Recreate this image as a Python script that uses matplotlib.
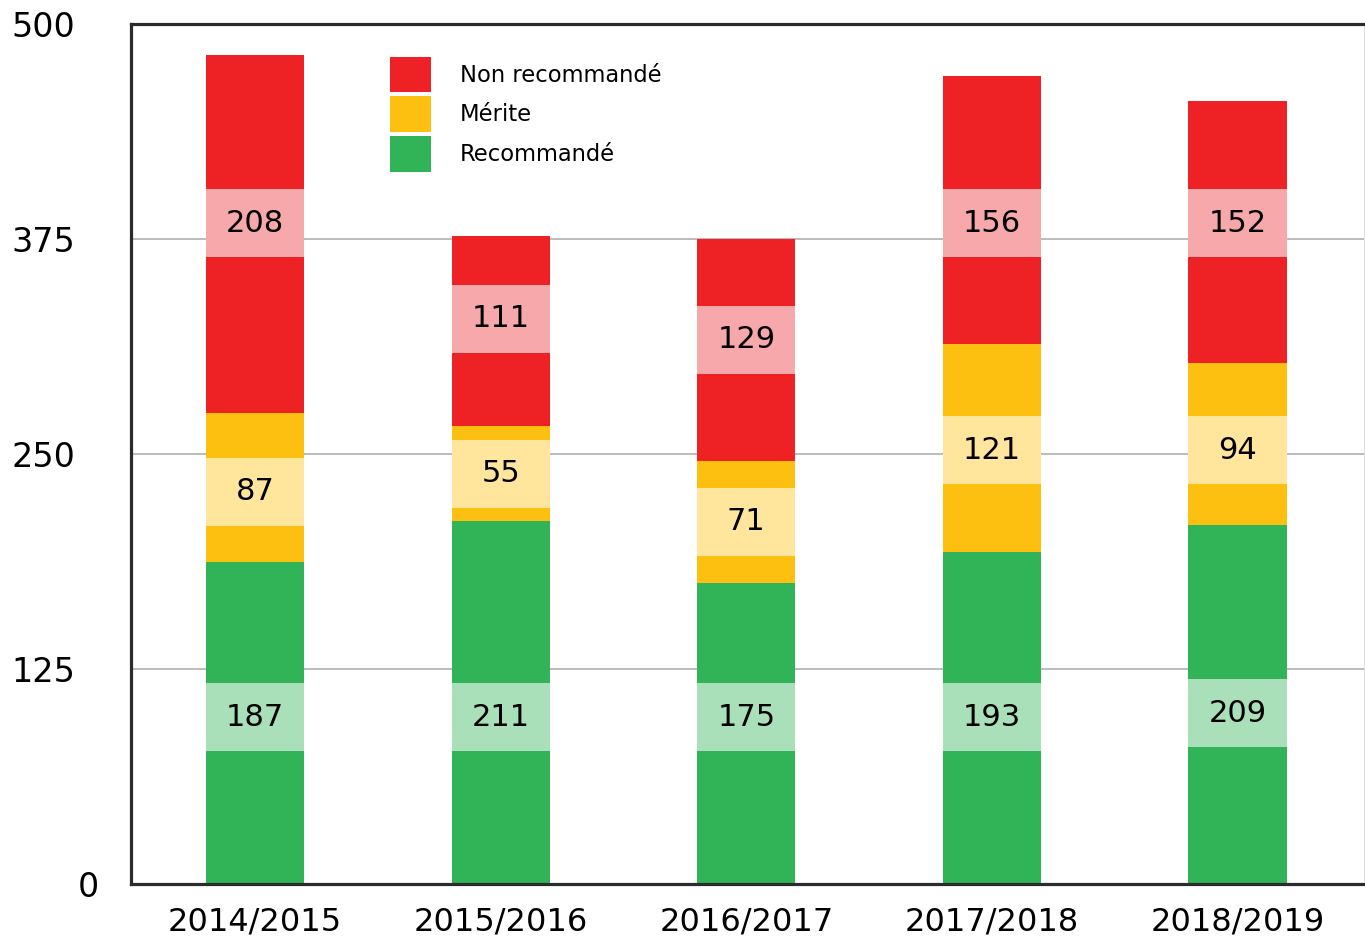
import matplotlib.pyplot as plt
import matplotlib.transforms as mtransforms
import numpy as np

saisons = ["2014/2015", "2015/2016", "2016/2017", "2017/2018", "2018/2019"]
recommande = [187, 211, 175, 193, 209]
merite = [87, 55, 71, 121, 94]
non_recommande = [208, 111, 129, 156, 152]
yticks = [0, 125, 250, 375, 500]

vert, jaune, rouge = "#31B457", "#FDC010", "#EE2224"
vert_clair, jaune_clair, rouge_clair = "#A9E0BA", "#FFE69C", "#F7A8AA"

fig = plt.figure(figsize=(13.65, 9.36), dpi=100)
ax = fig.add_axes([131 / 1365, 1 - 884 / 936, 1233 / 1365, 860 / 936])

x = np.arange(len(saisons))
w = 0.4
bas_merite = np.array(recommande)
bas_non = bas_merite + np.array(merite)

b1 = ax.bar(x, recommande, w, color=vert, linewidth=0, label="Recommandé", zorder=2)
b2 = ax.bar(x, merite, w, bottom=bas_merite, color=jaune, linewidth=0, label="Mérite", zorder=2)
b3 = ax.bar(x, non_recommande, w, bottom=bas_non, color=rouge, linewidth=0,
            label="Non recommandé", zorder=2)

# cases claires avec les valeurs
h = 39.5
centres_vert = [97, 97, 97, 97, 99.4]
centres_jaune = [228, 238.4, 210.5, 252.3, 252.3]
centres_rouge = [384.3, 328.5, 316.3, 384.3, 384.3]
for centres, vals, coul in [(centres_vert, recommande, vert_clair),
                            (centres_jaune, merite, jaune_clair),
                            (centres_rouge, non_recommande, rouge_clair)]:
    c = np.array(centres)
    ax.bar(x, h, w, bottom=c - h / 2, color=coul, linewidth=0, zorder=3)
    for xi, ci, v in zip(x, c, vals):
        ax.text(xi, ci, str(v), ha="center", va="center", fontsize=22, zorder=4)

ax.set_xlim(-0.505, 4.515)
ax.set_ylim(0, 500)
ax.set_yticks(yticks)
ax.set_yticklabels([str(t) for t in yticks], fontsize=24)
ax.set_xticks(x)
ax.set_xticklabels(saisons, fontsize=23)
ax.tick_params(axis="both", length=0)
ax.tick_params(axis="y", pad=40)
ax.tick_params(axis="x", pad=16)
for lab in ax.get_yticklabels():
    if lab.get_text() == "0":
        lab.set_transform(lab.get_transform() +
                          mtransforms.ScaledTranslation(0.24, 0, fig.dpi_scale_trans))

ax.yaxis.grid(True, color="#aaaaaa", linewidth=1.1, zorder=1)
ax.set_axisbelow(True)

for s in ["left", "top", "bottom"]:
    ax.spines[s].set_color("#2b2b2b")
    ax.spines[s].set_linewidth(2.3)
ax.spines["right"].set_color("#dddddd")
ax.spines["right"].set_linewidth(0.8)

ax.legend(handles=[b3, b2, b1], loc="upper left", bbox_to_anchor=(0.21, 0.962),
          frameon=False, fontsize=16.3, handlelength=1.8, handleheight=2.05,
          labelspacing=0.18, handletextpad=1.3, borderpad=0, borderaxespad=0)

plt.savefig("out.png", dpi=100)
